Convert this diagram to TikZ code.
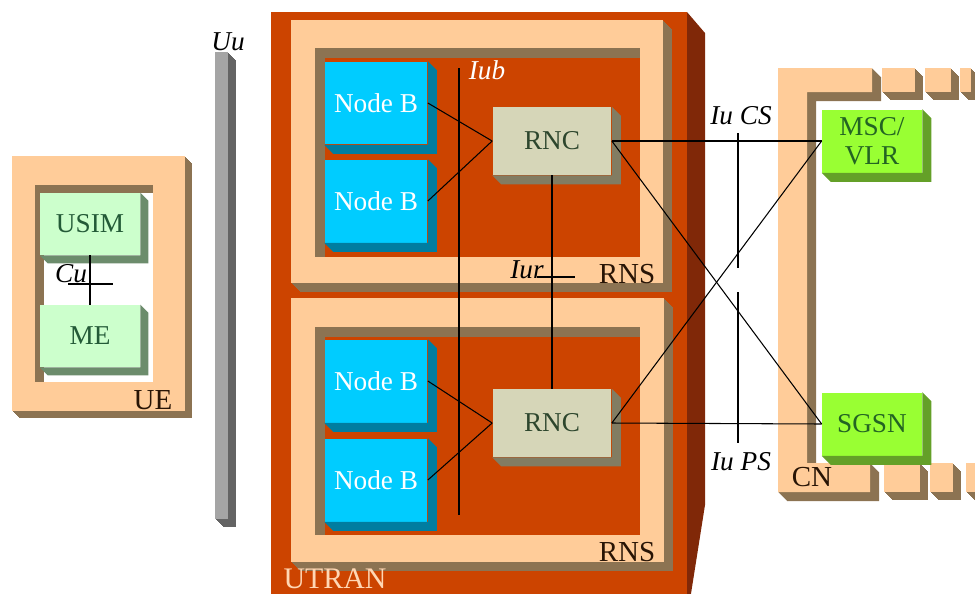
\documentclass[tikz,border=0pt]{standalone}
\usepackage{fontspec}
\setmainfont{Liberation Serif}
\usepackage{tikz}
\definecolor{utranRed}{RGB}{204,68,0}
\definecolor{utranSide}{RGB}{128,40,8}
\definecolor{framePeach}{RGB}{255,204,153}
\definecolor{frameBrown}{RGB}{140,115,82}
\definecolor{nodebCyan}{RGB}{0,204,255}
\definecolor{nodebSide}{RGB}{0,125,160}
\definecolor{rncGrey}{RGB}{214,214,184}
\definecolor{rncSide}{RGB}{130,124,98}
\definecolor{rncText}{RGB}{45,70,45}
\definecolor{ueGreen}{RGB}{204,255,204}
\definecolor{ueSide}{RGB}{108,140,108}
\definecolor{ueText}{RGB}{35,90,55}
\definecolor{cnGreen}{RGB}{153,255,51}
\definecolor{cnSide}{RGB}{100,160,40}
\definecolor{cnText}{RGB}{35,100,35}
\definecolor{uuGrey}{RGB}{165,165,165}
\definecolor{uuSide}{RGB}{100,100,100}
\definecolor{labelDark}{RGB}{40,20,5}
\definecolor{utranText}{RGB}{255,215,180}

\newcommand\extrude[3]{\fill[#2] (#1.north east) -- ++(#3,#3) -- ([shift={(#3,#3)}]#1.south east) -- ([shift={(#3,#3)}]#1.south west) -- (#1.south west) -- (#1.south east) -- cycle;}
\newcommand\slab[4]{\foreach \s in {0.5,1,...,#1} {\fill[#2,shift={(\s,\s)}] #4;} \fill[#3] #4;}

\begin{document}
\begin{tikzpicture}[x=0.02cm,y=-0.02cm,
  box/.style={inner sep=0pt,font=\fontsize{15.5}{16.5}\selectfont,align=center},
  nodeb/.style={box,fill=nodebCyan,text=white,minimum width=2.06cm,minimum height=1.66cm},
  rnc/.style={box,fill=rncGrey,text=rncText,minimum width=2.38cm,minimum height=1.36cm},
  uebox/.style={box,fill=ueGreen,text=ueText,minimum width=2cm,minimum height=1.24cm},
  cnbox/.style={box,fill=cnGreen,text=cnText,minimum width=2cm,minimum height=1.26cm},
  link/.style={line width=0.6pt},
  iface/.style={font=\fontsize{15.5}{16.5}\selectfont\itshape},
  framelabel/.style={font=\fontsize{16.5}{17.5}\selectfont,text=labelDark}]
\useasboundingbox (0,0) rectangle (975,593);
\clip (0,0) rectangle (975,593);

\slab{7}{frameBrown}{framePeach}{(12,156) rectangle (185,411)}
\fill[frameBrown] (35,185) rectangle (153,382);
\fill[white] (44,193) rectangle (153,382);

\slab{8}{uuSide}{uuGrey}{(215,52) rectangle (228,519)}

\fill[utranRed] (271,12) rectangle (687,600);
\fill[utranSide] (687,12) -- (705,33) -- (705,505) -- (690,600) -- (687,600) -- cycle;
\slab{9}{frameBrown}{framePeach}{(291,20) rectangle (663,283)}
\fill[frameBrown] (315,48) rectangle (640,257);
\fill[utranRed] (325,58) rectangle (640,257);
\slab{9}{frameBrown}{framePeach}{(291,298) rectangle (664,562)}
\fill[frameBrown] (315,327) rectangle (640,535);
\fill[utranRed] (325,337) rectangle (640,535);

\slab{9}{frameBrown}{framePeach}{(778,68) -- (872,68) -- (872,92) -- (807,92) -- (807,463) -- (870,463) -- (870,492) -- (778,492) -- cycle}
\foreach \a/\b in {882/915,925/951,960/971}
  {\slab{8}{frameBrown}{framePeach}{(\a,68) rectangle (\b,92)}}
\foreach \a/\b in {884/920,930/953,966/990}
  {\slab{8}{frameBrown}{framePeach}{(\a,463) rectangle (\b,492)}}

\node[uebox] (usim) at (90,224) {USIM};
\node[uebox] (me) at (90,336) {ME};
\node[nodeb] (nb1) at (376,103) {Node B};
\node[nodeb] (nb2) at (376,201) {Node B};
\node[nodeb] (nb3) at (376,381) {Node B};
\node[nodeb] (nb4) at (376,480) {Node B};
\node[rnc] (rncA) at (552,141) {RNC};
\node[rnc] (rncB) at (552,423) {RNC};
\node[cnbox] (msc) at (872,141) {MSC/\\VLR};
\node[cnbox] (sgsn) at (872,424) {SGSN};
\extrude{usim}{ueSide}{8}
\extrude{me}{ueSide}{8}
\foreach \n in {nb1,nb2,nb3,nb4} {\extrude{\n}{nodebSide}{9}}
\extrude{rncA}{rncSide}{9}
\extrude{rncB}{rncSide}{9}
\extrude{msc}{cnSide}{9}
\extrude{sgsn}{cnSide}{9}

\coordinate (cuL) at (68,284);
\coordinate (cuR) at (113,284);
\coordinate (iubTop) at (459,68);
\coordinate (iubBot) at (459,515);
\coordinate (iurL) at (537,277);
\coordinate (iurR) at (575,277);
\coordinate (csTop) at (738,133);
\coordinate (csBot) at (738,268);
\coordinate (psTop) at (738,292);
\coordinate (psBot) at (738,443);

\draw[link] (usim) -- (me);
\draw[link] (cuL) -- (cuR);
\draw[link] (iubTop) -- (iubBot);
\draw[link] (iurL) -- (iurR);
\draw[link] (nb1.east) -- (rncA.west);
\draw[link] (nb2.east) -- (rncA.west);
\draw[link] (nb3.east) -- (rncB.west);
\draw[link] (nb4.east) -- (rncB.west);
\draw[link] (rncA) -- (rncB);
\draw[link] (rncA.east) -- (msc.west);
\draw[link] (rncA.east) -- (sgsn.west);
\draw[link] (rncB.east) -- (sgsn.west);
\draw[link] (rncB.east) -- (msc.west);
\draw[link] (csTop) -- (csBot);
\draw[link] (psTop) -- (psBot);

\node[iface] (cuText) at (71,274) {Cu};
\node[iface] (uuText) at (228,42) {Uu};
\node[iface,text=white] (iubText) at (487,70) {Iub};
\node[iface] (iurText) at (527,270) {Iur};
\node[iface] (csText) at (741,116) {Iu CS};
\node[iface] (psText) at (741,462) {Iu PS};
\node[framelabel] (ueText) at (153,400) {UE};
\node[framelabel] (rnsA) at (627,274) {RNS};
\node[framelabel] (rnsB) at (627,552) {RNS};
\node[framelabel] (cnLabel) at (812,477) {CN};
\node[framelabel,text=utranText,font=\fontsize{17}{18}\selectfont,inner sep=1pt] (utranText) at (335,579) {UTRAN};
\end{tikzpicture}
\end{document}
